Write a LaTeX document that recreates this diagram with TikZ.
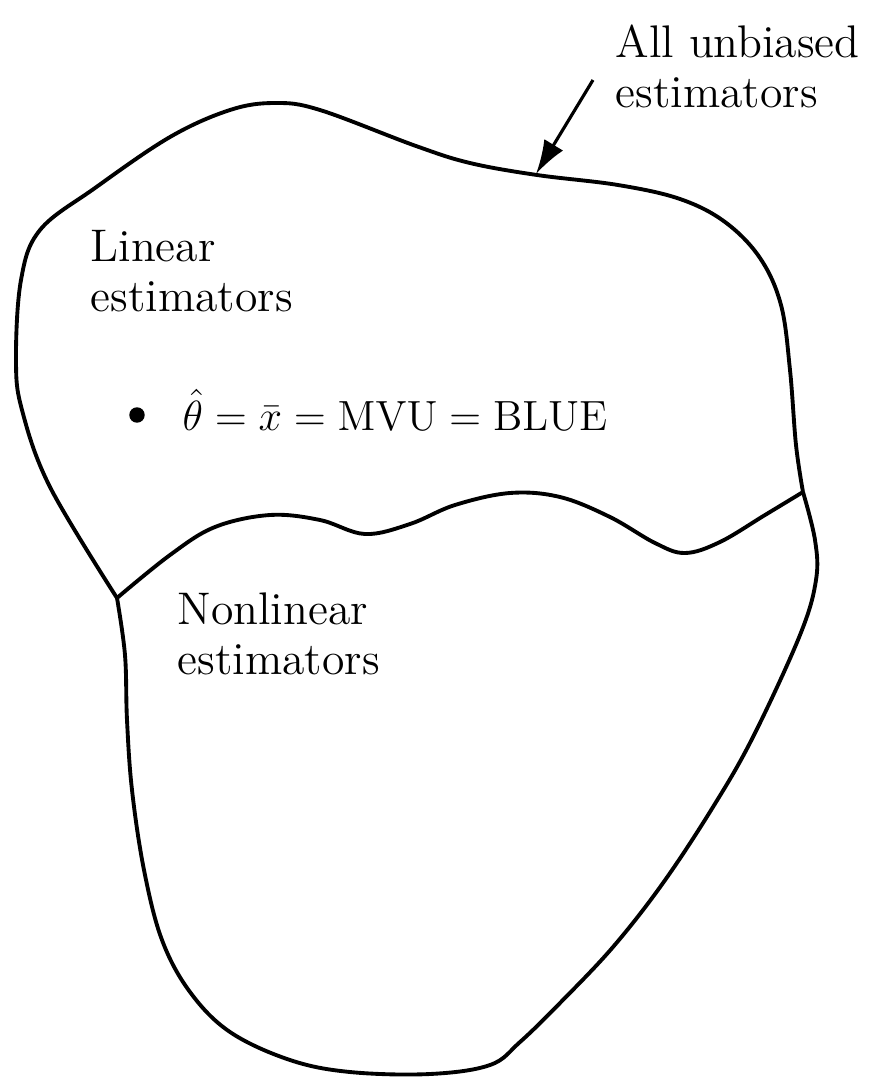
\documentclass[tikz,border=0pt]{standalone}
\usepackage{tikz}
\usetikzlibrary{arrows.meta}
\tikzset{
    region/.style={line width=1.1pt, line join=round},
    estarrow/.style={-{Latex[length=3.4mm,width=2.2mm]}, line width=0.9pt},
    lbl/.style={inner sep=0pt, align=left, font=\fontsize{13}{14.2}\selectfont},
    estdot/.style={shape=circle, draw=black, fill=black, inner sep=0pt, minimum size=0.14cm}
}

\begin{document}
\begin{tikzpicture}[x=0.01cm,y=-0.01cm]
    \useasboundingbox (0,0) rectangle (876,1078);

    \coordinate (jl) at (117,598);
    \coordinate (jr) at (803,492);

    \draw[region] plot[smooth, tension=0.6] coordinates {
        (117,598) (50,487) (22,410) (16,360) (21,280) (40,230)
        (95,188) (170,137) (230,110) (275,103) (320,110) (416,146)
        (470,163) (537,175) (618,185) (680,199) (725,222) (760,258)
        (781,305) (790,370) (796,445) (803,492)};
    \draw[region] plot[smooth, tension=0.6] coordinates {
        (803,492) (815,540) (816,580) (800,635) (753,737) (713,807)
        (663,883) (613,947) (560,1003) (520,1042) (490,1065) (430,1074)
        (350,1072) (290,1060) (230,1032) (190,992) (162,940) (144,870)
        (132,790) (127,720) (125,655) (117,598)};
    \draw[region] plot[smooth, tension=0.6] coordinates {
        (117,598) (170,555) (215,527) (270,515) (320,520) (365,534)
        (410,524) (455,505) (510,493) (560,497) (610,517) (655,543)
        (685,553) (720,542) (765,515) (803,492)};

    \node[lbl, anchor=north west] (all) at (615,24) {All unbiased\\estimators};
    \coordinate (tail) at (593,80);
    \coordinate (tip) at (536,174);
    \path [estarrow](tail) edge (tip);

    \node[lbl, anchor=north west] (lin) at (90,230) {Linear\\estimators};
    \node[estdot] (est) at (137,415) {};
    \node[lbl, anchor=base west] (eq) at (182,430) {$\hat{\theta} = \bar{x} = \mathrm{MVU} = \mathrm{BLUE}$};
    \node[lbl, anchor=north west] (nonlin) at (177,592) {Nonlinear\\estimators};
\end{tikzpicture}
\end{document}
